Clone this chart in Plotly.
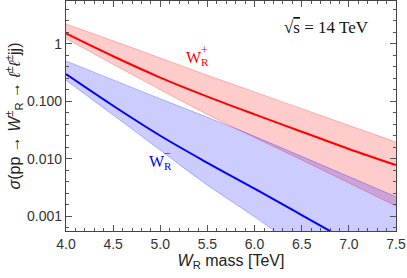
import plotly.graph_objects as go

# W_R mass in TeV
mass = [4.0, 4.5, 5.0, 5.5, 6.0, 6.5, 7.0, 7.5]

# cross sections (W_R^+): central value and band edges
xs_plus = [1.50, 0.603, 0.257, 0.120, 0.0589, 0.0295, 0.0148, 0.00776]
xs_plus_hi = [2.19, 1.12, 0.562, 0.282, 0.145, 0.0741, 0.0380, 0.0195]
xs_plus_lo = [1.23, 0.437, 0.158, 0.0589, 0.0234, 0.00955, 0.00380, 0.00151]

# cross sections (W_R^-)
xs_minus = [0.295, 0.0832, 0.0251, 0.00851, 0.00302, 0.00105, 0.000363, 0.000126]
xs_minus_hi = [0.501, 0.234, 0.110, 0.0525, 0.0245, 0.0110, 0.0049, 0.00219]
xs_minus_lo = [0.232, 0.0575, 0.0141, 0.00347, 0.00098, 0.00025, 0.00006, 0.000015]

ytick_vals = [1, 0.1, 0.01, 0.001]
ytick_text = ["1", "0.100", "0.010", "0.001"]
xtick_vals = [4.0, 4.5, 5.0, 5.5, 6.0, 6.5, 7.0, 7.5]

fig = go.Figure()

# bands
for lo, hi, rgb in [(xs_plus_lo, xs_plus_hi, "255,0,0"), (xs_minus_lo, xs_minus_hi, "0,0,255")]:
    fig.add_trace(go.Scatter(x=mass, y=lo, mode="lines", line_shape="spline",
                             line=dict(color=f"rgba({rgb},0.25)", width=1), showlegend=False))
    fig.add_trace(go.Scatter(x=mass, y=hi, mode="lines", line_shape="spline", fill="tonexty",
                             fillcolor=f"rgba({rgb},0.2)",
                             line=dict(color=f"rgba({rgb},0.25)", width=1), showlegend=False))

# central lines
fig.add_trace(go.Scatter(x=mass, y=xs_plus, mode="lines", line_shape="spline",
                         line=dict(color="#ff0000", width=2), showlegend=False))
fig.add_trace(go.Scatter(x=mass, y=xs_minus, mode="lines", line_shape="spline",
                         line=dict(color="#0000ff", width=2), showlegend=False))

axis_common = dict(showline=True, linecolor="#444", linewidth=1.3, mirror="allticks",
                   ticks="inside", ticklen=6, tickcolor="#555", showgrid=False, zeroline=False,
                   automargin=False,
                   tickfont=dict(family="Liberation Sans", size=14, color="#333"))

fig.update_xaxes(range=[4.0, 7.5], tickvals=xtick_vals, ticktext=[f"{v:.1f}" for v in xtick_vals],
                 minor=dict(ticks="inside", ticklen=3, dtick=0.1, tickcolor="#555"),
                 title=dict(text="<i>W</i><sub>R</sub> mass [TeV]",
                            font=dict(family="Liberation Sans", size=16, color="#222"), standoff=3),
                 **axis_common)
fig.update_yaxes(type="log", range=[-3.255, 0.74], tickvals=ytick_vals, ticktext=ytick_text,
                 minor=dict(ticks="inside", ticklen=3, tickcolor="#555",
                            tickvals=[10 ** (d + k / 5) for d in range(-4, 1) for k in range(1, 5)]),
                 title=dict(text="<i>σ</i>(pp → <i>W</i><sup>±</sup><sub>R</sub> → <i>ℓ</i><sup>±</sup><i>ℓ</i><sup>±</sup>jj)",
                            font=dict(family="Liberation Sans", size=16, color="#222"), standoff=2),
                 **axis_common)

# curve labels: W with subscript R, charge stacked above the subscript
for x, y, sign, col in [(5.25, -0.26, "+", "#ff0000"), (4.86, -2.06, "−", "#0000ff")]:
    fig.add_annotation(x=x, y=y, text="W<sub>R</sub>", showarrow=False, xanchor="left",
                       font=dict(family="Liberation Serif", size=16, color=col))
    fig.add_annotation(x=x, y=y, text=sign, showarrow=False, xanchor="left",
                       xshift=15, yshift=9,
                       font=dict(family="Liberation Serif", size=12, color=col))

fig.add_annotation(x=0.655, y=0.935, xref="paper", yref="paper", xanchor="left",
                   text="√<span style='text-decoration:overline'>s</span> = 14 TeV", showarrow=False,
                   font=dict(family="Liberation Serif", size=17, color="#111"))

fig.update_layout(width=407, height=278, margin=dict(l=66, r=11, t=1, b=47),
                  plot_bgcolor="white", paper_bgcolor="white")

# drop the default page margin so the figure sits at the window's corner
fig.write_html("out.html", config={"displayModeBar": False},
               post_script="document.body.style.margin='0';")
